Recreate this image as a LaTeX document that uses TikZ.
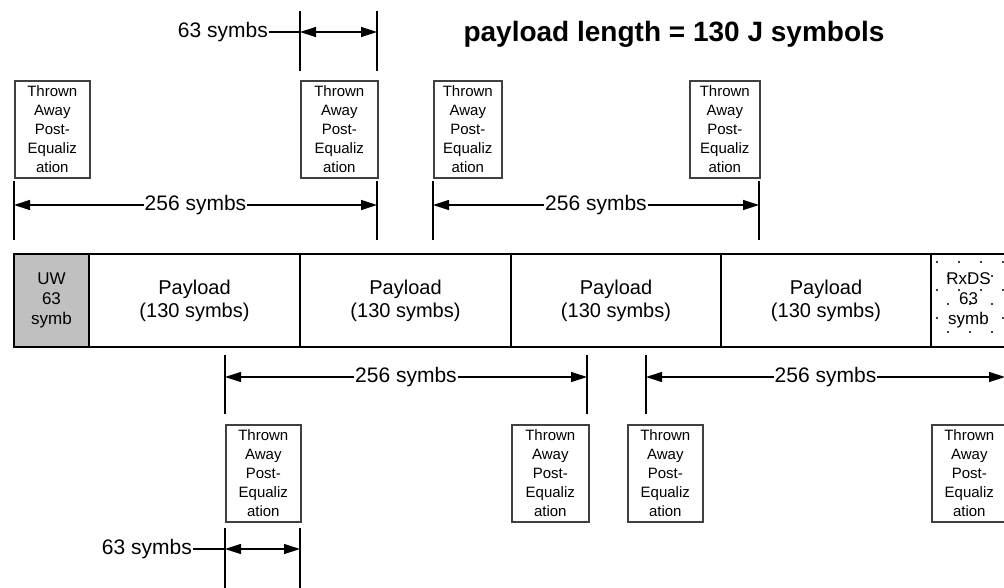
\documentclass[tikz,border=0pt]{standalone}
\usepackage{fontspec}
\setmainfont{Liberation Sans}
\usepackage{tikz}
\usetikzlibrary{arrows.meta,positioning}
\definecolor{uwgray}{RGB}{192,192,192}
\newcommand{\throwtxt}{Thrown\\Away\\Post-\\Equaliz\\ation}

\begin{document}
\begin{tikzpicture}[
    x=1pt, y=-1pt,
    cell/.style={
      draw,
      line width=1.4pt,
      outer sep=0pt,
      minimum height=93pt,
      inner sep=0pt,
      align=center,
      font=\fontsize{20}{23}\selectfont
    },
    shortcell/.style={
      cell,
      minimum width=75pt,
      font=\fontsize{17}{20}\selectfont
    },
    thrown/.style={
      draw=black!75,
      line width=1.6pt,
      minimum width=75pt,
      minimum height=97pt,
      inner sep=0pt,
      align=center,
      anchor=north west,
      font=\fontsize{15}{19}\selectfont
    },
    tick/.style={line width=1.8pt},
    dimarrow/.style={
      {Triangle[length=16pt,width=10pt]}-{Triangle[length=16pt,width=10pt]},
      line width=1.2pt
    },
    dimlabel/.style={fill=white, inner sep=1pt, font=\fontsize{21}{24}\selectfont},
  ]
  \useasboundingbox (0,0) rectangle (1004,587);

  \node[font=\fontsize{28}{32}\selectfont\bfseries] (title) at (674,34)
    {payload length = 130 J symbols};

  % frame row
  \node[shortcell, fill=uwgray, anchor=north west] (uw) at (14,254) {UW\\63\\symb};
  \node[cell, minimum width=211pt, right=0pt of uw]   (pay1) {Payload\\(130 symbs)};
  \node[cell, minimum width=211pt, right=0pt of pay1] (pay2) {Payload\\(130 symbs)};
  \node[cell, minimum width=210pt, right=0pt of pay2] (pay3) {Payload\\(130 symbs)};
  \node[cell, minimum width=210pt, right=0pt of pay3] (pay4) {Payload\\(130 symbs)};
  \node[shortcell, right=0pt of pay4,
    path picture={
      \foreach \r [evaluate=\r as \off using {mod(\r,2)*11}] in {0,...,5}
        \foreach \c in {0,...,3}
          \fill ([shift={(6+\off+\c*22,8+\r*14)}]path picture bounding box.north west)
            circle (1.1pt);
    }] (rxds) {RxDS\\63\\symb};

  % thrown away blocks above
  \node[thrown] (upA) at (14,80) {\throwtxt};
  \node[thrown, minimum width=77pt] (upB) at (300,80) {\throwtxt};
  \node[thrown, minimum width=68pt] (upC) at (433,80) {\throwtxt};
  \node[thrown, minimum width=70pt] (upD) at (689,80) {\throwtxt};

  % thrown away blocks below
  \node[thrown] (loA) at (225,424) {\throwtxt};
  \node[thrown, minimum width=77pt] (loB) at (511,424) {\throwtxt};
  \node[thrown] (loC) at (627,424) {\throwtxt};
  \node[thrown] (loD) at (931,424) {\throwtxt};

  % 256 symbs spans
  \coordinate (winAl) at (14,205);
  \coordinate (winAr) at (377,205);
  \coordinate (winBl) at (433,205);
  \coordinate (winBr) at (759,205);
  \coordinate (winCl) at (225,377);
  \coordinate (winCr) at (587,377);
  \coordinate (winDl) at (646,377);
  \coordinate (winDr) at (1005,377);
  \foreach \w in {winAl,winAr,winBl,winBr}
    \draw[tick] (\w) ++(0,-24) -- ++(0,59);
  \foreach \w in {winCl,winCr,winDl,winDr}
    \draw[tick] (\w) ++(0,-22) -- ++(0,59);
  \draw[dimarrow] (winAl) -- node[dimlabel] {256 symbs} (winAr);
  \draw[dimarrow] (winBl) -- node[dimlabel] {256 symbs} (winBr);
  \draw[dimarrow] (winCl) -- node[dimlabel] {256 symbs} (winCr);
  \draw[dimarrow] (winDl) -- node[dimlabel] {256 symbs} (winDr);

  % 63 symbs spans
  \coordinate (uwAl) at (300,32);
  \coordinate (uwAr) at (377,32);
  \coordinate (uwBl) at (225,549);
  \coordinate (uwBr) at (300,549);
  \foreach \w in {uwAl,uwAr,uwBl,uwBr}
    \draw[tick] (\w) ++(0,-21) -- ++(0,60);
  \draw[dimarrow] (uwAl) -- (uwAr);
  \draw[dimarrow] (uwBl) -- (uwBr);
  \node[dimlabel, anchor=east] (uwAlab) at (269,32) {63 symbs};
  \node[dimlabel, anchor=east] (uwBlab) at (193,549) {63 symbs};
  \draw[line width=1.2pt] (uwAlab) -- (uwAl);
  \draw[line width=1.2pt] (uwBlab) -- (uwBl);
\end{tikzpicture}
\end{document}
